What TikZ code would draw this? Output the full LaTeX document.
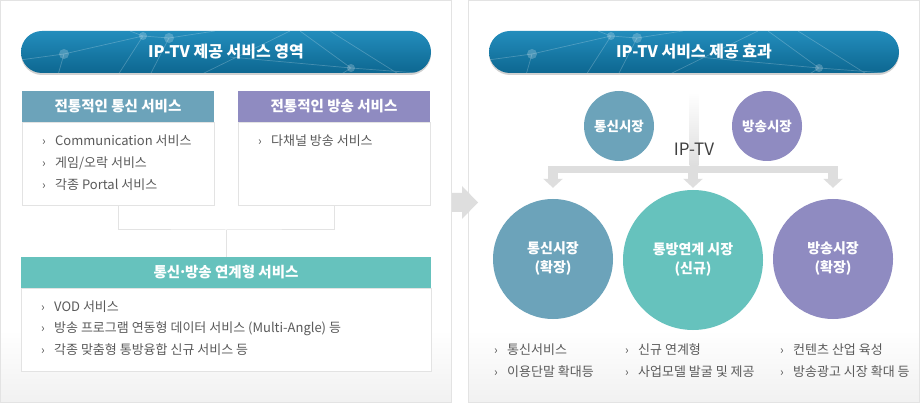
\documentclass[tikz,border=0pt]{standalone}
\usepackage{fontspec}
\setmainfont{Noto Sans CJK KR}
\usetikzlibrary{arrows.meta,positioning}
\definecolor{bannertop}{HTML}{238DBC}
\definecolor{bannerbot}{HTML}{0D6791}
\definecolor{commblue}{HTML}{6CA3BA}
\definecolor{castpurple}{HTML}{8F8BC1}
\definecolor{mixteal}{HTML}{66C2BD}
\definecolor{itemgray}{HTML}{5A5A5A}
\definecolor{panelline}{HTML}{E3E3E3}
\definecolor{panelbot}{HTML}{F1F1F1}
\definecolor{flowgray}{HTML}{DEDEDE}
\newcommand{\chev}{\makebox[13pt][l]{\fontsize{12}{12}\selectfont ›}}
% faint network lines on the banners
\newcommand{\bannernet}{%
  \draw[white,opacity=0.22,line width=0.7pt] (20,60) -- (64,54) -- (143,36) -- (169,38) -- (215,31)
    (64,54) -- (58,75) (143,36) -- (118,75) (169,38) -- (150,75) (143,36) -- (130,31)
    (200,75) -- (290,31) (230,57) -- (351,68) -- (431,74) (300,31) -- (351,68)
    (330,31) -- (400,75) (351,68) -- (340,75);
  \fill[white,opacity=0.22] (64,54) circle (5) (143,36) circle (4) (169,38) circle (5) (351,68) circle (4);
}

\begin{document}
\begin{tikzpicture}[x=1pt,y=-1pt,
    every node/.style={font=\fontsize{13}{15}\selectfont},
    head/.style={fill, text=white, inner sep=0pt, font=\fontsize{14.5}{17}\selectfont\bfseries},
    body/.style={draw=panelline, fill=white, inner sep=0pt},
    item/.style={anchor=west, text=itemgray, inner sep=0pt},
    bigcirc/.style={circle, inner sep=0pt, text=white, align=center, font=\fontsize{14}{19}\selectfont\bfseries},
    banner/.style={text=white, font=\fontsize{16}{18}\selectfont\bfseries},
    tree/.style={draw=panelline, line width=1pt},
    flowbar/.style={flowgray, line width=7pt},
    flowarrow/.style={flowgray, line width=10pt, -{Triangle[width=19pt,length=9pt]}}]
  \useasboundingbox (0,0) rectangle (920,403);

  % panels
  \fill[white] (0,0) rectangle (920,403);
  \shade[top color=white, bottom color=panelbot] (1,330) rectangle (451,402);
  \shade[top color=white, bottom color=panelbot] (469,330) rectangle (919,402);
  \draw[panelline] (0.5,0.5) rectangle (451.5,402.5);
  \draw[panelline] (468.5,0.5) rectangle (919.5,402.5);
  \fill[flowgray] (452,193) -- (462,193) -- (462,186) -- (478,202.5) -- (462,219) -- (462,212) -- (452,212) -- cycle;

  % banners
  \fill[black!18, rounded corners=21] (21,33) rectangle (431,75);
  \shade[top color=bannertop, bottom color=bannerbot, rounded corners=21] (21,31) rectangle (431,73);
  \begin{scope}
    \clip[rounded corners=21] (21,31) rectangle (431,73);
    \bannernet
  \end{scope}
  \node[banner] (leftbanner) at (226,52) {IP-TV 제공 서비스 영역};
  \fill[black!18, rounded corners=21] (489,33) rectangle (899,75);
  \shade[top color=bannertop, bottom color=bannerbot, rounded corners=21] (489,31) rectangle (899,73);
  \begin{scope}
    \clip[rounded corners=21] (489,31) rectangle (899,73);
    \begin{scope}[shift={(468,0)}]
      \bannernet
    \end{scope}
  \end{scope}
  \node[banner] (rightbanner) at (694,52) {IP-TV 서비스 제공 효과};

  % left: service boxes
  \node[head, fill=commblue, minimum width=192, minimum height=31] (commhead) at (118,106.5) {전통적인 통신 서비스};
  \node[body, minimum width=192, minimum height=83, below=0pt of commhead] (commbody) {};
  \node[head, fill=castpurple, minimum width=192, minimum height=31] (casthead) at (334,106.5) {전통적인 방송 서비스};
  \node[body, minimum width=192, minimum height=83, below=0pt of casthead] (castbody) {};
  \node[head, fill=mixteal, minimum width=410, minimum height=31] (mixhead) at (226,272.5) {통신\kern-2pt·\kern-2pt방송 연계형 서비스};
  \node[body, minimum width=410, minimum height=83, below=0pt of mixhead] (mixbody) {};

  \node[item] (comm1) at (42,141) {\chev Communication 서비스};
  \node[item] (comm2) at (42,163) {\chev 게임/오락 서비스};
  \node[item] (comm3) at (42,185) {\chev 각종 Portal 서비스};
  \node[item] (cast1) at (258,141) {\chev 다채널 방송 서비스};
  \node[item] (mix1) at (41,307) {\chev VOD 서비스};
  \node[item] (mix2) at (41,328.5) {\chev 방송 프로그램 연동형 데이터 서비스 (Multi-Angle) 등};
  \node[item] (mix3) at (41,350) {\chev 각종 맞춤형 통방융합 신규 서비스 등};

  \coordinate (split) at (226,230);
  \draw[tree] (commbody.south) |- (split) -| (castbody.south);
  \draw[tree] (split) -- (mixhead.north);

  % right: market effects
  \node[bigcirc, fill=commblue, minimum size=70, font=\fontsize{13.5}{16}\selectfont\bfseries] (commmkt) at (619,126) {통신시장};
  \node[bigcirc, fill=castpurple, minimum size=70, font=\fontsize{13.5}{16}\selectfont\bfseries] (castmkt) at (767,126) {방송시장};

  \shade[top color=white, bottom color=flowgray] (689.5,92) rectangle (698.5,166);
  \coordinate (flowjoin) at (694,169.5);
  \node[text=black!75, font=\fontsize{17}{20}\selectfont] (iptv) at (694,149) {IP-TV};

  \node[bigcirc, fill=commblue, minimum size=120] (commbig) at (553,259) {통신시장\\(확장)};
  \node[bigcirc, fill=mixteal, minimum size=140] (mixbig) at (693,260) {통방연계 시장\\(신규)};
  \node[bigcirc, fill=castpurple, minimum size=120] (castbig) at (833,259) {방송시장\\(확장)};

  \draw[flowbar] ([xshift=-5pt]flowjoin -| commbig) -- ([xshift=5pt]flowjoin -| castbig);
  \draw[flowarrow] (flowjoin -| commbig) -- ([yshift=11pt]commbig.north);
  \draw[flowarrow] (flowjoin -| mixbig) -- ([yshift=2pt]mixbig.north);
  \draw[flowarrow] (flowjoin -| castbig) -- ([yshift=11pt]castbig.north);

  \node[item] (commfx1) at (494,350) {\chev 통신서비스};
  \node[item] (commfx2) at (494,372) {\chev 이용단말 확대등};
  \node[item] (mixfx1) at (625,350) {\chev 신규 연계형};
  \node[item] (mixfx2) at (625,372) {\chev 사업모델 발굴 및 제공};
  \node[item] (castfx1) at (780,350) {\chev 컨텐츠 산업 육성};
  \node[item] (castfx2) at (780,372) {\chev 방송광고 시장 확대 등};
\end{tikzpicture}
\end{document}
